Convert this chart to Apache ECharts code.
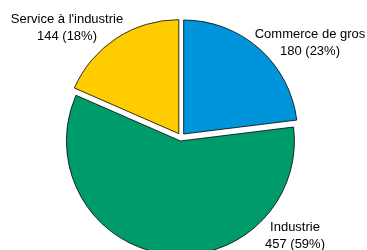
<!DOCTYPE html>
<html><head><meta charset="utf-8">
<script src="https://cdn.jsdelivr.net/npm/echarts@6/dist/echarts.min.js"></script>
<style>html,body{margin:0;padding:0;background:#fff}#c{width:367px;height:250px}</style>
</head><body><div id="c"></div>
<script>
var categories = ["Commerce de gros", "Industrie", "Service à l'industrie"];
var values = [180, 457, 144];
var percents = ["23%", "59%", "18%"];
var colors = ["#0095DA", "#009B6B", "#FFCC00"];
var labelPos = [[310, 43], [295, 236], [67, 28]];

var chart = echarts.init(document.getElementById('c'), null, {renderer: 'canvas'});
chart.setOption({
  animation: false,
  graphic: categories.map(function (n, i) {
    return {
      type: 'text', x: labelPos[i][0], y: labelPos[i][1], z: 100,
      style: {
        text: n + '\n' + values[i] + ' (' + percents[i] + ')',
        fontFamily: 'Liberation Sans, Arial, sans-serif', fontSize: 13, lineHeight: 17,
        fill: '#000', align: 'center', verticalAlign: 'middle'
      }
    };
  }),
  series: [{
    type: 'pie',
    center: [181, 137],
    radius: 114,
    startAngle: 90,
    clockwise: true,
    selectedMode: 'multiple',
    selectedOffset: 4,
    itemStyle: {borderColor: '#000', borderWidth: 0.8},
    label: {show: false},
    labelLine: {show: false},
    emphasis: {disabled: true},
    data: categories.map(function (n, i) {
      return {name: n, value: values[i], selected: true, itemStyle: {color: colors[i]}};
    })
  }]
});
</script></body></html>
